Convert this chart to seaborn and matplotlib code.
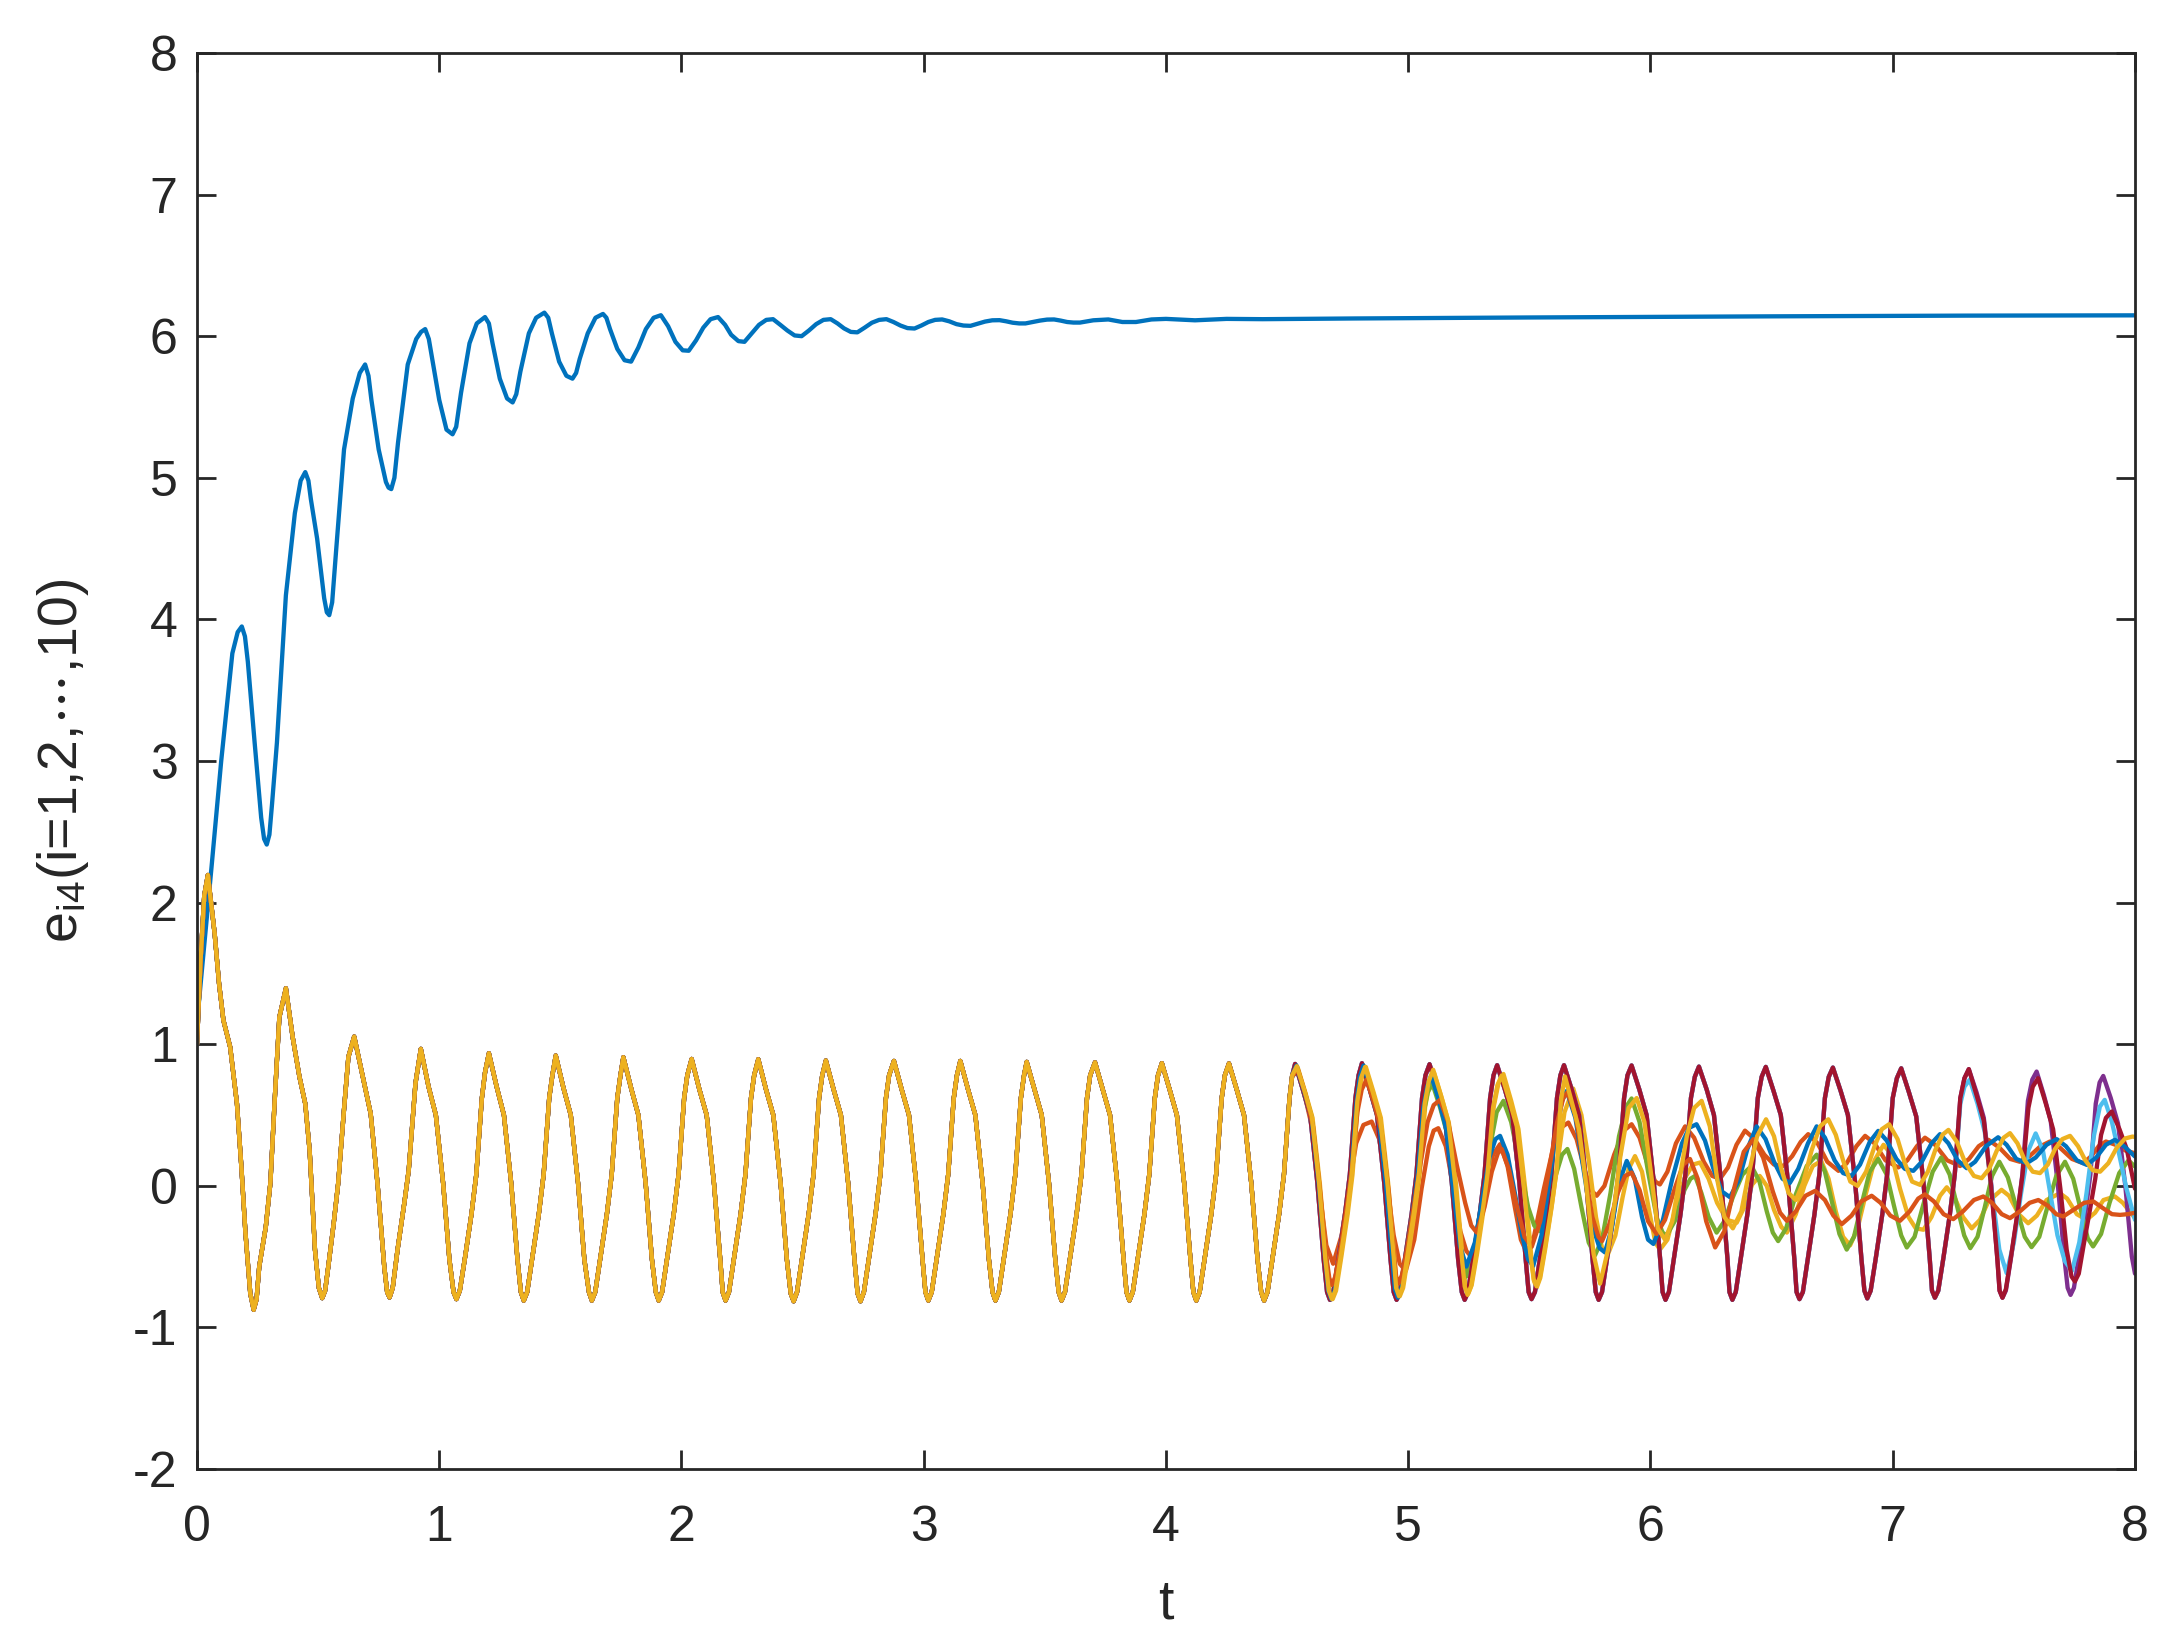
import numpy as np
import pandas as pd
import matplotlib
matplotlib.use("Agg")
import matplotlib.pyplot as plt
import seaborn as sns

# MATLAB default colour order
C_BLUE = "#0072BD"
C_ORANGE = "#D95319"
C_YELLOW = "#EDB120"
C_PURPLE = "#7E2F8E"
C_GREEN = "#77AC30"
C_CYAN = "#4DBEEE"
C_RED = "#A2142F"

# ---- e_14 : the curve that settles near 6.1
e1 = [(0.000, 1.15), (0.030, 1.70), (0.060, 2.25), (0.100, 3.00), (0.146, 3.76), (0.168, 3.91), (0.185, 3.95),
      (0.198, 3.88), (0.210, 3.70), (0.238, 3.13), (0.265, 2.60), (0.277, 2.45), (0.288, 2.41), (0.299, 2.48),
      (0.310, 2.70), (0.330, 3.13), (0.367, 4.17), (0.404, 4.75), (0.428, 4.98), (0.447, 5.04), (0.460, 4.98),
      (0.470, 4.85), (0.496, 4.57), (0.525, 4.15), (0.536, 4.05), (0.546, 4.03), (0.558, 4.12), (0.575, 4.50),
      (0.607, 5.20), (0.643, 5.56), (0.672, 5.74), (0.694, 5.80), (0.708, 5.72), (0.720, 5.55), (0.750, 5.20),
      (0.780, 4.97), (0.791, 4.93), (0.802, 4.92), (0.815, 5.00), (0.830, 5.25), (0.870, 5.80), (0.905, 5.98),
      (0.925, 6.03), (0.942, 6.05), (0.957, 5.98), (0.970, 5.85), (1.000, 5.55), (1.030, 5.34), (1.055, 5.307),
      (1.070, 5.36), (1.090, 5.60), (1.125, 5.95), (1.155, 6.09), (1.189, 6.135), (1.205, 6.09), (1.220, 5.95),
      (1.250, 5.70), (1.280, 5.56), (1.303, 5.532), (1.318, 5.59), (1.335, 5.75), (1.370, 6.02), (1.400, 6.13),
      (1.434, 6.166), (1.450, 6.13), (1.465, 6.02), (1.495, 5.82), (1.525, 5.72), (1.550, 5.70), (1.565, 5.74),
      (1.580, 5.84), (1.613, 6.02), (1.645, 6.13), (1.676, 6.157), (1.690, 6.13), (1.705, 6.05), (1.735, 5.91),
      (1.765, 5.83), (1.792, 5.82), (1.822, 5.92), (1.853, 6.05), (1.885, 6.13), (1.915, 6.148), (1.945, 6.07),
      (1.975, 5.96), (2.005, 5.90), (2.030, 5.897), (2.060, 5.97), (2.090, 6.06), (2.120, 6.12), (2.151, 6.135),
      (2.180, 6.08), (2.205, 6.01), (2.235, 5.965), (2.260, 5.96), (2.290, 6.02), (2.320, 6.08), (2.350, 6.115),
      (2.378, 6.12), (2.408, 6.08), (2.437, 6.04), (2.467, 6.005), (2.496, 6.00), (2.526, 6.04), (2.556, 6.085),
      (2.586, 6.115), (2.616, 6.12), (2.644, 6.09), (2.671, 6.055), (2.699, 6.03), (2.726, 6.027), (2.756, 6.06),
      (2.786, 6.095), (2.816, 6.115), (2.846, 6.12), (2.875, 6.10), (2.904, 6.075), (2.933, 6.057), (2.962, 6.054),
      (2.990, 6.075), (3.019, 6.10), (3.047, 6.115), (3.076, 6.118), (3.105, 6.105), (3.135, 6.085), (3.164, 6.075),
      (3.193, 6.073), (3.223, 6.088), (3.253, 6.103), (3.283, 6.112), (3.313, 6.113), (3.340, 6.105), (3.367, 6.095),
      (3.394, 6.09), (3.420, 6.09), (3.450, 6.10), (3.480, 6.11), (3.509, 6.117), (3.538, 6.118), (3.565, 6.11),
      (3.592, 6.10), (3.618, 6.096), (3.645, 6.096), (3.700, 6.112), (3.762, 6.118), (3.820, 6.10),
      (3.876, 6.10), (3.940, 6.118), (4.000, 6.122), (4.120, 6.112), (4.250, 6.122), (4.400, 6.12),
      (4.780, 6.125), (5.500, 6.132), (6.500, 6.14), (7.300, 6.145), (8.000, 6.147)]

# ---- the other nine curves coincide up to t ~ 4.5
common = [(0.000, 1.00), (0.015, 1.60), (0.030, 2.05), (0.045, 2.195), (0.073, 1.78), (0.091, 1.43),
          (0.109, 1.17), (0.137, 0.98), (0.165, 0.58), (0.183, 0.14), (0.200, -0.33), (0.220, -0.76),
          (0.234, -0.875), (0.246, -0.80), (0.257, -0.57), (0.284, -0.29), (0.303, 0.02), (0.321, 0.61),
          (0.340, 1.19), (0.367, 1.395), (0.395, 1.05), (0.423, 0.77), (0.447, 0.58), (0.465, 0.25),
          (0.487, -0.45), (0.503, -0.72), (0.517, -0.793), (0.529, -0.74), (0.542, -0.57), (0.564, -0.27),
          (0.583, 0.02), (0.607, 0.54), (0.625, 0.91), (0.649, 1.054), (0.690, 0.725), (0.717, 0.51),
          (0.745, 0.02), (0.773, -0.57), (0.785, -0.75), (0.795, -0.788), (0.808, -0.72), (0.828, -0.45),
          (0.856, -0.12), (0.874, 0.11), (0.902, 0.725), (0.924, 0.967),
          (0.956, 0.70), (0.986, 0.50), (1.016, 0.02), (1.042, -0.52), (1.059, -0.75), (1.071, -0.80), (1.085, -0.74),
          (1.107, -0.50), (1.133, -0.20), (1.153, 0.08), (1.176, 0.62), (1.189, 0.80), (1.205, 0.936),
          (1.237, 0.70), (1.267, 0.50), (1.297, 0.02), (1.323, -0.52), (1.337, -0.75), (1.349, -0.81), (1.363, -0.75),
          (1.385, -0.50), (1.411, -0.20), (1.431, 0.08), (1.454, 0.62), (1.467, 0.78), (1.481, 0.920),
          (1.513, 0.69), (1.543, 0.50), (1.573, 0.02), (1.599, -0.52), (1.618, -0.75), (1.630, -0.81), (1.644, -0.75),
          (1.666, -0.50), (1.692, -0.20), (1.712, 0.08), (1.735, 0.62), (1.748, 0.78), (1.760, 0.908),
          (1.792, 0.69), (1.822, 0.50), (1.852, 0.02), (1.878, -0.52), (1.894, -0.75), (1.906, -0.81), (1.920, -0.75),
          (1.942, -0.50), (1.968, -0.20), (1.988, 0.08), (2.011, 0.62), (2.024, 0.78), (2.042, 0.896),
          (2.074, 0.68), (2.104, 0.50), (2.134, 0.02), (2.160, -0.52), (2.170, -0.75), (2.182, -0.81), (2.196, -0.75),
          (2.218, -0.50), (2.244, -0.20), (2.264, 0.08), (2.287, 0.62), (2.300, 0.78), (2.317, 0.894),
          (2.349, 0.68), (2.379, 0.50), (2.409, 0.02), (2.435, -0.52), (2.451, -0.76), (2.463, -0.815), (2.477, -0.75),
          (2.499, -0.50), (2.525, -0.20), (2.545, 0.08), (2.568, 0.62), (2.581, 0.78), (2.596, 0.885),
          (2.628, 0.68), (2.658, 0.50), (2.688, 0.02), (2.714, -0.52), (2.727, -0.76), (2.739, -0.815), (2.753, -0.75),
          (2.775, -0.50), (2.801, -0.20), (2.821, 0.08), (2.844, 0.62), (2.857, 0.78), (2.877, 0.882),
          (2.909, 0.68), (2.939, 0.50), (2.969, 0.02), (2.995, -0.52), (3.007, -0.75), (3.019, -0.81), (3.033, -0.75),
          (3.055, -0.50), (3.081, -0.20), (3.101, 0.08), (3.124, 0.62), (3.137, 0.78), (3.151, 0.882),
          (3.183, 0.68), (3.213, 0.50), (3.243, 0.02), (3.269, -0.52), (3.284, -0.75), (3.296, -0.81), (3.310, -0.75),
          (3.332, -0.50), (3.358, -0.20), (3.378, 0.08), (3.401, 0.62), (3.414, 0.78), (3.425, 0.875),
          (3.457, 0.68), (3.487, 0.50), (3.517, 0.02), (3.543, -0.52), (3.557, -0.75), (3.569, -0.81), (3.583, -0.75),
          (3.605, -0.50), (3.631, -0.20), (3.651, 0.08), (3.674, 0.62), (3.687, 0.78), (3.707, 0.872),
          (3.739, 0.68), (3.769, 0.50), (3.799, 0.02), (3.825, -0.52), (3.837, -0.75), (3.849, -0.81), (3.863, -0.75),
          (3.885, -0.50), (3.911, -0.20), (3.931, 0.08), (3.954, 0.62), (3.967, 0.78), (3.983, 0.866),
          (4.015, 0.68), (4.045, 0.50), (4.075, 0.02), (4.101, -0.52), (4.113, -0.75), (4.125, -0.81), (4.139, -0.75),
          (4.161, -0.50), (4.187, -0.20), (4.207, 0.08), (4.230, 0.62), (4.243, 0.78), (4.260, 0.864),
          (4.292, 0.68), (4.322, 0.50), (4.352, 0.02), (4.378, -0.52), (4.393, -0.75), (4.405, -0.81), (4.419, -0.75),
          (4.441, -0.50), (4.467, -0.20), (4.487, 0.08), (4.510, 0.62), (4.521, 0.78)]

# large-amplitude branch shared by e_44, e_64, e_74 until t ~ 7.25
big_tail = [(4.533, 0.861), (4.565, 0.68), (4.595, 0.50), (4.625, 0.02), (4.651, -0.52), (4.665, -0.75),
            (4.677, -0.805), (4.691, -0.75),
            (4.713, -0.50), (4.739, -0.20), (4.759, 0.08), (4.782, 0.62), (4.795, 0.78), (4.809, 0.866),
            (4.841, 0.68), (4.871, 0.50), (4.901, 0.02), (4.927, -0.52), (4.940, -0.75), (4.952, -0.805), (4.966, -0.75),
            (4.988, -0.50), (5.014, -0.20), (5.034, 0.08), (5.057, 0.62), (5.071, 0.78), (5.088, 0.859),
            (5.120, 0.68), (5.150, 0.50), (5.180, 0.02), (5.206, -0.52), (5.221, -0.75), (5.233, -0.805), (5.247, -0.75),
            (5.269, -0.50), (5.295, -0.20), (5.315, 0.08), (5.338, 0.62), (5.352, 0.78), (5.367, 0.852),
            (5.399, 0.68), (5.429, 0.50), (5.459, 0.02), (5.485, -0.52), (5.497, -0.75), (5.509, -0.80), (5.523, -0.75),
            (5.545, -0.50), (5.571, -0.20), (5.591, 0.08), (5.614, 0.62), (5.628, 0.78), (5.643, 0.852),
            (5.675, 0.68), (5.705, 0.50), (5.735, 0.02), (5.761, -0.52), (5.774, -0.75), (5.786, -0.805), (5.800, -0.75),
            (5.822, -0.50), (5.848, -0.20), (5.868, 0.08), (5.891, 0.62), (5.905, 0.78), (5.922, 0.850),
            (5.954, 0.68), (5.984, 0.50), (6.014, 0.02), (6.040, -0.52), (6.050, -0.75), (6.062, -0.805), (6.076, -0.75),
            (6.098, -0.50), (6.124, -0.20), (6.144, 0.08), (6.167, 0.62), (6.183, 0.77), (6.200, 0.842),
            (6.232, 0.68), (6.262, 0.50), (6.292, 0.02), (6.318, -0.52), (6.326, -0.75), (6.338, -0.805), (6.352, -0.75),
            (6.374, -0.50), (6.400, -0.20), (6.420, 0.08), (6.443, 0.62), (6.459, 0.77), (6.476, 0.840),
            (6.508, 0.67), (6.538, 0.50), (6.568, 0.02), (6.594, -0.52), (6.603, -0.75), (6.615, -0.80), (6.629, -0.75),
            (6.651, -0.50), (6.677, -0.20), (6.697, 0.08), (6.720, 0.62), (6.736, 0.77), (6.753, 0.835),
            (6.785, 0.67), (6.815, 0.50), (6.845, 0.02), (6.871, -0.52), (6.883, -0.74), (6.895, -0.795), (6.909, -0.74),
            (6.931, -0.50), (6.957, -0.20), (6.977, 0.08), (7.000, 0.62), (7.017, 0.76), (7.035, 0.830),
            (7.067, 0.66), (7.097, 0.49), (7.127, 0.02), (7.153, -0.52), (7.162, -0.74), (7.174, -0.79), (7.188, -0.74),
            (7.210, -0.50), (7.236, -0.20), (7.256, 0.08)]

red_end = [(7.279, 0.62), (7.296, 0.76), (7.314, 0.824), (7.346, 0.64), (7.376, 0.46), (7.406, 0.0),
           (7.432, -0.52), (7.441, -0.74), (7.453, -0.79), (7.467, -0.73), (7.490, -0.48), (7.516, -0.18),
           (7.536, 0.08), (7.560, 0.55), (7.578, 0.70), (7.600, 0.76), (7.632, 0.58), (7.662, 0.40), (7.692, -0.02),
           (7.718, -0.45), (7.738, -0.64), (7.752, -0.675), (7.768, -0.62), (7.790, -0.40), (7.816, -0.15),
           (7.836, 0.05), (7.860, 0.36), (7.880, 0.48), (7.904, 0.525), (7.936, 0.40), (7.966, 0.26), (8.000, -0.02)]

purple_end = [(7.279, 0.62), (7.296, 0.76), (7.314, 0.824), (7.346, 0.66), (7.376, 0.48), (7.406, 0.02),
              (7.432, -0.52), (7.441, -0.74), (7.453, -0.79), (7.467, -0.74), (7.489, -0.50), (7.515, -0.20),
              (7.535, 0.08), (7.558, 0.60), (7.576, 0.75), (7.594, 0.807), (7.624, 0.64), (7.652, 0.46),
              (7.682, 0.0), (7.708, -0.50), (7.722, -0.72), (7.734, -0.77), (7.748, -0.72), (7.770, -0.48),
              (7.796, -0.18), (7.816, 0.08), (7.838, 0.58), (7.854, 0.73), (7.869, 0.776), (7.900, 0.62),
              (7.930, 0.44), (7.960, 0.0), (7.987, -0.50), (8.000, -0.62)]

cyan_end = [(7.279, 0.58), (7.296, 0.70), (7.318, 0.75), (7.350, 0.58), (7.380, 0.38), (7.410, -0.05),
            (7.440, -0.45), (7.470, -0.616), (7.500, -0.40), (7.530, -0.05), (7.560, 0.25), (7.590, 0.37),
            (7.620, 0.25), (7.650, -0.05), (7.680, -0.35), (7.710, -0.53), (7.740, -0.60), (7.770, -0.40),
            (7.800, -0.05), (7.830, 0.35), (7.855, 0.56), (7.875, 0.607), (7.905, 0.45), (7.935, 0.22),
            (7.965, -0.02), (8.000, -0.24)]

orange1_tail = [(4.545, 0.80), (4.575, 0.62), (4.605, 0.40), (4.635, -0.05), (4.662, -0.42), (4.690, -0.55),
                (4.725, -0.35), (4.755, -0.02), (4.785, 0.30), (4.815, 0.43), (4.849, 0.454), (4.880, 0.33),
                (4.910, 0.05), (4.940, -0.35), (4.965, -0.55), (4.990, -0.60), (5.025, -0.38), (5.055, -0.02),
                (5.085, 0.28), (5.105, 0.39), (5.124, 0.407), (5.155, 0.28), (5.185, 0.00), (5.215, -0.32),
                (5.240, -0.46), (5.260, -0.50), (5.290, -0.33), (5.320, -0.02), (5.350, 0.22), (5.379, 0.294),
                (5.410, 0.14), (5.440, -0.15), (5.465, -0.38), (5.489, -0.47), (5.520, -0.35), (5.560, -0.02),
                (5.600, 0.28), (5.630, 0.41), (5.661, 0.447), (5.695, 0.33), (5.730, 0.10), (5.760, -0.04),
                (5.778, -0.07), (5.810, 0.00), (5.850, 0.22), (5.890, 0.39), (5.922, 0.435), (5.955, 0.34),
                (5.990, 0.14), (6.020, 0.03), (6.039, 0.01), (6.070, 0.10), (6.105, 0.30), (6.143, 0.42),
                (6.180, 0.34), (6.220, 0.17), (6.255, 0.07), (6.287, 0.05), (6.320, 0.13), (6.355, 0.29),
                (6.390, 0.39), (6.430, 0.33), (6.470, 0.22), (6.510, 0.15), (6.548, 0.14), (6.585, 0.21),
                (6.620, 0.31), (6.651, 0.365), (6.690, 0.30), (6.730, 0.17), (6.776, 0.106), (6.810, 0.16),
                (6.850, 0.28), (6.886, 0.353), (6.925, 0.30), (6.970, 0.18), (7.023, 0.13), (7.060, 0.18),
                (7.100, 0.28), (7.133, 0.34), (7.175, 0.29), (7.225, 0.18), (7.278, 0.14), (7.315, 0.19),
                (7.355, 0.28), (7.395, 0.325), (7.440, 0.27), (7.485, 0.19), (7.525, 0.17), (7.565, 0.21),
                (7.610, 0.28), (7.649, 0.313), (7.690, 0.27), (7.740, 0.19), (7.786, 0.16), (7.820, 0.21),
                (7.850, 0.28), (7.880, 0.313), (7.920, 0.29), (7.960, 0.25), (8.000, 0.23)]

yellowB_tail = [(4.543, 0.84), (4.575, 0.66), (4.605, 0.48), (4.635, 0.02), (4.661, -0.50), (4.675, -0.74),
                (4.688, -0.80), (4.702, -0.74),
                (4.724, -0.50), (4.750, -0.20), (4.770, 0.08), (4.793, 0.60), (4.808, 0.76), (4.825, 0.84),
                (4.857, 0.66), (4.887, 0.48), (4.917, 0.02), (4.943, -0.50), (4.953, -0.72), (4.965, -0.78),
                (4.979, -0.72), (5.001, -0.48),
                (5.027, -0.18), (5.047, 0.08), (5.070, 0.56), (5.088, 0.72), (5.106, 0.80), (5.138, 0.62),
                (5.168, 0.44), (5.198, 0.0), (5.224, -0.50), (5.236, -0.71), (5.248, -0.76), (5.262, -0.70),
                (5.284, -0.48), (5.310, -0.18),
                (5.330, 0.08), (5.353, 0.56), (5.372, 0.72), (5.393, 0.79), (5.425, 0.60), (5.455, 0.40),
                (5.485, -0.05), (5.508, -0.50), (5.519, -0.67), (5.530, -0.72), (5.545, -0.65), (5.565, -0.45),
                (5.592, -0.15), (5.615, 0.15),
                (5.645, 0.52), (5.681, 0.687), (5.715, 0.50), (5.745, 0.18), (5.775, -0.22), (5.800, -0.44),
                (5.825, -0.48), (5.855, -0.35), (5.885, -0.08), (5.910, 0.12), (5.936, 0.21), (5.965, 0.10),
                (5.995, -0.18), (6.020, -0.40), (6.039, -0.45), (6.070, -0.38), (6.105, -0.15), (6.140, 0.05),
                (6.175, 0.15), (6.205, 0.165), (6.240, 0.05), (6.275, -0.12), (6.315, -0.24), (6.356, -0.26),
                (6.390, -0.14), (6.420, 0.01), (6.451, 0.07), (6.480, 0.0), (6.510, -0.17), (6.540, -0.29),
                (6.563, -0.33), (6.600, -0.20), (6.635, 0.00), (6.670, 0.14), (6.705, 0.176), (6.735, 0.05),
                (6.765, -0.18), (6.795, -0.36), (6.824, -0.42), (6.855, -0.30), (6.890, -0.05), (6.925, 0.18),
                (6.962, 0.29), (6.995, 0.22), (7.030, -0.02), (7.065, -0.22), (7.095, -0.30), (7.127, -0.31),
                (7.160, -0.22), (7.195, -0.07), (7.223, -0.01), (7.255, -0.08), (7.290, -0.22), (7.326, -0.30),
                (7.360, -0.24), (7.395, -0.11), (7.449, -0.028), (7.480, -0.07), (7.520, -0.20), (7.559, -0.264),
                (7.595, -0.21), (7.635, -0.10), (7.690, -0.052), (7.720, -0.09), (7.760, -0.20), (7.800, -0.24),
                (7.835, -0.19), (7.870, -0.10), (7.917, -0.075), (7.950, -0.12), (8.000, -0.228)]

green_tail = [(4.538, 0.85), (4.570, 0.67), (4.600, 0.49), (4.630, 0.02), (4.656, -0.50), (4.670, -0.74),
              (4.682, -0.80), (4.696, -0.74),
              (4.718, -0.50), (4.744, -0.20), (4.764, 0.08), (4.787, 0.60), (4.800, 0.77), (4.815, 0.85),
              (4.847, 0.66), (4.877, 0.48), (4.907, 0.02), (4.933, -0.50), (4.945, -0.73), (4.957, -0.79),
              (4.971, -0.73), (4.993, -0.48),
              (5.019, -0.18), (5.039, 0.08), (5.062, 0.50), (5.080, 0.66), (5.100, 0.72), (5.132, 0.55),
              (5.162, 0.36), (5.192, -0.05), (5.215, -0.45), (5.240, -0.64), (5.275, -0.42), (5.305, -0.10),
              (5.335, 0.25), (5.365, 0.52), (5.393, 0.60), (5.425, 0.45), (5.460, 0.15), (5.495, -0.15),
              (5.520, -0.28), (5.544, -0.32), (5.575, -0.18), (5.610, 0.08), (5.635, 0.22), (5.657, 0.26),
              (5.685, 0.12), (5.715, -0.15), (5.745, -0.40), (5.771, -0.49), (5.800, -0.38), (5.835, -0.05),
              (5.870, 0.35), (5.900, 0.56), (5.922, 0.617), (5.955, 0.45), (5.990, 0.10), (6.025, -0.22),
              (6.050, -0.33), (6.066, -0.35), (6.100, -0.25), (6.140, -0.03), (6.165, 0.05), (6.184, 0.07),
              (6.210, -0.05), (6.240, -0.22), (6.273, -0.33), (6.305, -0.25), (6.340, -0.08), (6.380, 0.08),
              (6.417, 0.14), (6.450, 0.03), (6.480, -0.18), (6.505, -0.33), (6.527, -0.39), (6.560, -0.30),
              (6.600, -0.06), (6.645, 0.14), (6.686, 0.22), (6.720, 0.10), (6.750, -0.12), (6.780, -0.34),
              (6.810, -0.45), (6.840, -0.36), (6.870, -0.14), (6.905, 0.10), (6.940, 0.19), (6.975, 0.08),
              (7.005, -0.14), (7.035, -0.35), (7.058, -0.435), (7.090, -0.36), (7.125, -0.14), (7.165, 0.10),
              (7.200, 0.20), (7.235, 0.08), (7.265, -0.14), (7.295, -0.35), (7.320, -0.44), (7.350, -0.36),
              (7.380, -0.15), (7.410, 0.07), (7.440, 0.17), (7.475, 0.06), (7.510, -0.15), (7.545, -0.36),
              (7.573, -0.433), (7.605, -0.36), (7.640, -0.14), (7.675, 0.07), (7.711, 0.17), (7.745, 0.05),
              (7.775, -0.16), (7.805, -0.37), (7.827, -0.428), (7.860, -0.34), (7.895, -0.12), (7.935, 0.09),
              (7.973, 0.18), (8.000, 0.136)]

blue_tail = [(4.538, 0.85), (4.570, 0.67), (4.600, 0.49), (4.630, 0.02), (4.656, -0.50), (4.670, -0.74),
             (4.682, -0.80), (4.696, -0.74),
             (4.718, -0.50), (4.744, -0.20), (4.764, 0.08), (4.787, 0.60), (4.800, 0.77), (4.815, 0.85),
             (4.847, 0.66), (4.877, 0.48), (4.907, 0.02), (4.933, -0.50), (4.945, -0.73), (4.957, -0.79),
             (4.971, -0.73), (4.993, -0.48),
             (5.019, -0.18), (5.039, 0.08), (5.062, 0.55), (5.078, 0.70), (5.095, 0.78), (5.127, 0.60),
             (5.157, 0.40), (5.187, -0.05), (5.213, -0.42), (5.240, -0.57), (5.275, -0.40), (5.305, -0.10),
             (5.335, 0.20), (5.360, 0.33), (5.379, 0.353), (5.410, 0.22), (5.440, -0.05), (5.470, -0.35),
             (5.495, -0.52), (5.516, -0.565), (5.550, -0.35), (5.580, 0.00), (5.610, 0.38), (5.635, 0.60),
             (5.654, 0.67), (5.690, 0.48), (5.725, 0.10), (5.760, -0.28), (5.790, -0.44), (5.812, -0.47),
             (5.840, -0.30), (5.870, 0.02), (5.902, 0.176), (5.935, 0.05), (5.965, -0.22), (5.990, -0.38),
             (6.012, -0.41), (6.050, -0.25), (6.090, 0.05), (6.130, 0.30), (6.160, 0.41), (6.190, 0.435),
             (6.225, 0.32), (6.260, 0.12), (6.295, -0.04), (6.328, -0.08), (6.365, 0.04), (6.400, 0.26),
             (6.438, 0.42), (6.475, 0.33), (6.510, 0.17), (6.545, 0.05), (6.575, 0.02), (6.610, 0.12),
             (6.650, 0.30), (6.686, 0.42), (6.720, 0.34), (6.760, 0.18), (6.795, 0.09), (6.830, 0.07),
             (6.865, 0.15), (6.905, 0.31), (6.940, 0.388), (6.975, 0.32), (7.015, 0.19), (7.050, 0.12),
             (7.085, 0.106), (7.120, 0.17), (7.160, 0.30), (7.195, 0.365), (7.230, 0.30), (7.268, 0.18),
             (7.305, 0.125), (7.340, 0.17), (7.385, 0.28), (7.435, 0.343), (7.470, 0.29), (7.510, 0.19),
             (7.553, 0.16), (7.590, 0.20), (7.635, 0.29), (7.677, 0.33), (7.715, 0.28), (7.760, 0.18),
             (7.801, 0.148), (7.840, 0.20), (7.880, 0.29), (7.917, 0.325), (7.955, 0.28), (8.000, 0.207)]

orange2_tail = [(4.545, 0.82), (4.577, 0.64), (4.607, 0.42), (4.637, -0.05), (4.662, -0.50), (4.674, -0.65),
                (4.685, -0.70), (4.699, -0.64),
                (4.720, -0.45), (4.746, -0.15), (4.766, 0.10), (4.790, 0.52), (4.808, 0.68), (4.828, 0.75),
                (4.860, 0.58), (4.890, 0.38), (4.920, -0.05), (4.942, -0.50), (4.950, -0.64), (4.960, -0.69),
                (4.974, -0.63), (4.995, -0.45),
                (5.025, -0.12), (5.050, 0.15), (5.080, 0.45), (5.105, 0.57), (5.131, 0.607), (5.165, 0.45),
                (5.200, 0.15), (5.235, -0.12), (5.260, -0.28), (5.283, -0.33), (5.315, -0.15), (5.345, 0.10),
                (5.370, 0.23), (5.386, 0.26), (5.415, 0.12), (5.445, -0.12), (5.480, -0.36), (5.510, -0.43),
                (5.545, -0.25), (5.580, 0.10), (5.615, 0.45), (5.640, 0.62), (5.657, 0.66), (5.690, 0.50),
                (5.725, 0.15), (5.760, -0.22), (5.785, -0.36), (5.800, -0.39), (5.830, -0.27), (5.865, -0.05),
                (5.895, 0.07), (5.922, 0.094), (5.955, -0.03), (5.990, -0.25), (6.025, -0.34), (6.060, -0.24),
                (6.100, -0.02), (6.135, 0.15), (6.163, 0.19), (6.195, 0.05), (6.230, -0.25), (6.267, -0.435),
                (6.305, -0.32), (6.345, -0.02), (6.385, 0.24), (6.425, 0.33), (6.465, 0.20), (6.505, -0.04),
                (6.535, -0.19), (6.563, -0.247), (6.600, -0.18), (6.640, -0.07), (6.680, -0.035), (6.720, -0.10),
                (6.755, -0.21), (6.790, -0.27), (6.830, -0.21), (6.870, -0.11), (6.913, -0.07), (6.950, -0.12),
                (6.990, -0.21), (7.030, -0.247), (7.070, -0.18), (7.105, -0.09), (7.133, -0.06), (7.170, -0.11),
                (7.210, -0.20), (7.250, -0.235), (7.290, -0.18), (7.335, -0.10), (7.374, -0.075), (7.410, -0.12),
                (7.450, -0.20), (7.484, -0.228), (7.525, -0.18), (7.565, -0.12), (7.601, -0.10), (7.640, -0.14),
                (7.675, -0.20), (7.704, -0.216), (7.745, -0.17), (7.790, -0.12), (7.828, -0.11), (7.870, -0.16),
                (7.905, -0.20), (7.938, -0.205), (7.970, -0.20), (8.000, -0.19)]

yellowA_tail = [(4.540, 0.845), (4.572, 0.67), (4.602, 0.49), (4.632, 0.02), (4.658, -0.52), (4.672, -0.74),
                (4.685, -0.80), (4.699, -0.74),
                (4.721, -0.50), (4.747, -0.20), (4.767, 0.08), (4.790, 0.60), (4.805, 0.76), (4.822, 0.84),
                (4.854, 0.66), (4.884, 0.48), (4.914, 0.02), (4.940, -0.50), (4.950, -0.72), (4.962, -0.78),
                (4.976, -0.72), (4.998, -0.48),
                (5.024, -0.18), (5.044, 0.08), (5.068, 0.58), (5.085, 0.74), (5.103, 0.82), (5.135, 0.64),
                (5.165, 0.46), (5.195, 0.0), (5.221, -0.50), (5.233, -0.71), (5.245, -0.77), (5.259, -0.71),
                (5.281, -0.48), (5.307, -0.18),
                (5.327, 0.08), (5.350, 0.55), (5.368, 0.71), (5.386, 0.78), (5.418, 0.60), (5.448, 0.42),
                (5.478, -0.02), (5.504, -0.48), (5.518, -0.66), (5.530, -0.71), (5.544, -0.64), (5.566, -0.42),
                (5.592, -0.14), (5.612, 0.10),
                (5.630, 0.60), (5.647, 0.772), (5.677, 0.58), (5.705, 0.40), (5.735, 0.0), (5.765, -0.48),
                (5.792, -0.69), (5.825, -0.45), (5.850, -0.15), (5.875, 0.20), (5.910, 0.55), (5.943, 0.62),
                (5.975, 0.45), (6.005, 0.05), (6.030, -0.30), (6.060, -0.38), (6.090, -0.25), (6.120, 0.05),
                (6.150, 0.35), (6.180, 0.55), (6.211, 0.60), (6.245, 0.42), (6.275, 0.05), (6.305, -0.22),
                (6.340, -0.30), (6.375, -0.18), (6.405, 0.08), (6.440, 0.35), (6.477, 0.47), (6.510, 0.35),
                (6.540, 0.12), (6.570, -0.05), (6.600, -0.10), (6.630, 0.02), (6.665, 0.25), (6.700, 0.42),
                (6.734, 0.47), (6.765, 0.36), (6.795, 0.18), (6.825, 0.03), (6.855, 0.0), (6.890, 0.10),
                (6.925, 0.28), (6.955, 0.40), (6.985, 0.435), (7.020, 0.33), (7.050, 0.16), (7.080, 0.03),
                (7.113, 0.007), (7.145, 0.10), (7.175, 0.25), (7.205, 0.36), (7.230, 0.395), (7.265, 0.31),
                (7.300, 0.16), (7.335, 0.07), (7.367, 0.054), (7.398, 0.12), (7.430, 0.25), (7.458, 0.34),
                (7.484, 0.372), (7.515, 0.30), (7.545, 0.18), (7.578, 0.10), (7.608, 0.09), (7.640, 0.15),
                (7.670, 0.26), (7.700, 0.33), (7.732, 0.353), (7.765, 0.28), (7.795, 0.18), (7.826, 0.11),
                (7.856, 0.10), (7.890, 0.16), (7.925, 0.27), (7.960, 0.335), (7.990, 0.348), (8.000, 0.345)]

# drawing order i = 1..10 (later ones lie on top)
curves = [
    ("e14", e1, C_BLUE),
    ("e24", common + orange1_tail, C_ORANGE),
    ("e34", common + yellowB_tail, C_YELLOW),
    ("e44", common + big_tail + purple_end, C_PURPLE),
    ("e54", common + green_tail, C_GREEN),
    ("e64", common + big_tail + cyan_end, C_CYAN),
    ("e74", common + big_tail + red_end, C_RED),
    ("e84", common + blue_tail, C_BLUE),
    ("e94", common + orange2_tail, C_ORANGE),
    ("e104", common + yellowA_tail, C_YELLOW),
]

sns.set_theme(style="white")
plt.rcParams["font.family"] = ["Liberation Sans", "DejaVu Sans"]
plt.rcParams["mathtext.fontset"] = "custom"
plt.rcParams["mathtext.rm"] = "Liberation Sans"
plt.rcParams["mathtext.it"] = "Liberation Sans"
plt.rcParams["mathtext.fallback"] = "stixsans"
plt.rcParams["axes.unicode_minus"] = False

fig = plt.figure(figsize=(2179 / 200, 1644 / 200), dpi=200)
ax = fig.add_axes([0.0904, 0.1064, 0.8894, 0.8614])

for name, pts, col in curves:
    df = pd.DataFrame(pts, columns=["t", "e"])
    sns.lineplot(data=df, x="t", y="e", color=col, linewidth=1.55,
                 estimator=None, sort=False, ax=ax)

ax.set_xlim(0, 8)
ax.set_ylim(-2, 8)
ax.set_xticks(range(0, 9))
ax.set_yticks(range(-2, 9))

dark = "#262626"
for s in ax.spines.values():
    s.set_visible(True)
    s.set_color(dark)
    s.set_linewidth(1.0)
ax.tick_params(direction="in", length=7, width=1.0, color=dark, labelcolor=dark,
               labelsize=18, top=True, right=True, bottom=True, left=True)
ax.tick_params(axis="x", pad=13)
ax.tick_params(axis="y", pad=7)

ax.set_xlabel("t", fontsize=20, color=dark, labelpad=10)
ax.set_ylabel(r"e$_{\mathregular{i4}}$(i=1,2,$\cdots$,10)", fontsize=20, color=dark, labelpad=15)

fig.savefig("out.png", dpi=200)
